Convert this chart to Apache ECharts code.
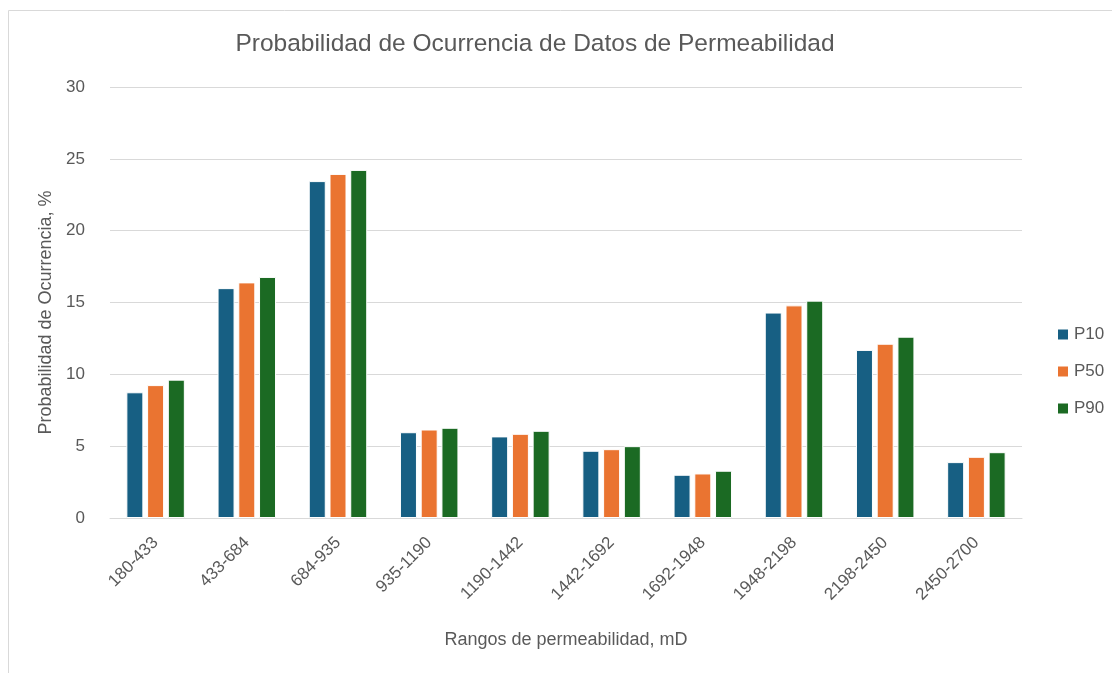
<!DOCTYPE html>
<html>
<head>
<meta charset="utf-8">
<script src="https://cdn.jsdelivr.net/npm/echarts@6/dist/echarts.min.js"></script>
<style>
  html, body { margin: 0; padding: 0; background: #fff; }
  #chart { width: 1112px; height: 673px; }
</style>
</head>
<body>
<div id="chart"></div>
<script>
// categories and values
const rangos = ['180-433', '433-684', '684-935', '935-1190', '1190-1442',
                '1442-1692', '1692-1948', '1948-2198', '2198-2450', '2450-2700'];
const p10 = [8.75, 16.0, 23.45, 5.97, 5.68, 4.68, 3.01, 14.3, 11.7, 3.89];
const p50 = [9.25, 16.4, 23.95, 6.16, 5.86, 4.79, 3.1, 14.8, 12.13, 4.26];
const p90 = [9.63, 16.78, 24.23, 6.28, 6.07, 5.0, 3.29, 15.13, 12.62, 4.58];
const yTicks = [0, 5, 10, 15, 20, 25, 30];

const txt = '#595959';
const font = 'Liberation Sans, Arial, sans-serif';

const chart = echarts.init(document.getElementById('chart'));

function barSerie(name, data, color) {
    return {
        name: name,
        type: 'bar',
        data: data,
        barWidth: 17,
        barGap: '22%',
        itemStyle: {
            color: color,
            borderColor: '#fff',
            borderWidth: 1
        }
    }
}

const option = {
    animation: false,
    textStyle: { fontFamily: font },
    title: {
        text: 'Probabilidad de Ocurrencia de Datos de Permeabilidad',
        left: 530,
        top: 27,
        textAlign: 'center',
        textStyle: { color: txt, fontSize: 24.5, fontWeight: 'normal', fontFamily: font }
    },
    graphic: [{
        type: 'rect',
        shape: { x: 8.5, y: 10.5, width: 1200, height: 700 },
        style: { fill: 'none', stroke: '#d9d9d9', lineWidth: 1 },
        silent: true
    }],
    legend: {
        orient: 'vertical',
        left: 1051,
        top: 321,
        itemWidth: 12,
        itemHeight: 12,
        itemGap: 20,
        icon: 'rect',
        textStyle: { color: txt, fontSize: 17, fontFamily: font },
        data: ['P10', 'P50', 'P90']
    },
    grid: {
        left: 110,
        right: 90,
        top: 87,
        bottom: 155
    },
    xAxis: {
        type: 'category',
        data: rangos,
        name: 'Rangos de permeabilidad, mD',
        nameLocation: 'middle',
        nameGap: 113,
        nameTextStyle: { color: txt, fontSize: 18, fontFamily: font },
        axisLine: { lineStyle: { color: '#d9d9d9' } },
        axisTick: { show: false },
        axisLabel: { color: txt, fontSize: 17, rotate: 45, margin: 22, interval: 0 }
    },
    yAxis: {
        type: 'value',
        min: yTicks[0],
        max: yTicks[yTicks.length - 1],
        interval: 5,
        name: 'Probabilidad de Ocurrencia, %',
        nameLocation: 'middle',
        nameGap: 54,
        nameTextStyle: { color: txt, fontSize: 18, fontFamily: font, padding: [0, 20, 0, 0] },
        axisLine: { show: false },
        axisTick: { show: false },
        axisLabel: { color: txt, fontSize: 17, margin: 25 },
        splitLine: { lineStyle: { color: '#d9d9d9' } }
    },
    series: [
        barSerie('P10', p10, '#175F83'),
        barSerie('P50', p50, '#EA7431'),
        barSerie('P90', p90, '#1B6A23')
    ]
};

chart.setOption(option);
</script>
</body>
</html>
